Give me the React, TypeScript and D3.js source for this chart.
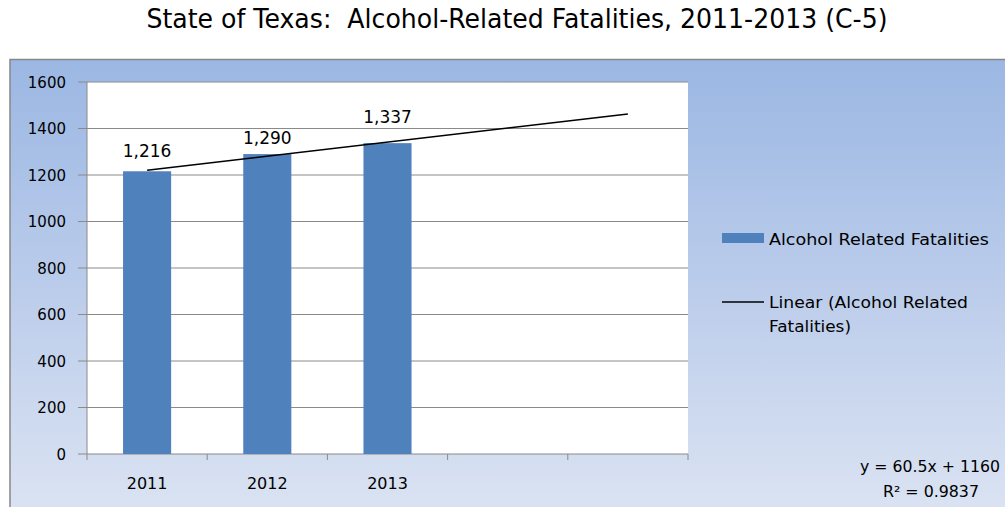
import React from "react";
import * as d3 from "d3";

const title = "State of Texas:  Alcohol-Related Fatalities, 2011-2013 (C-5)";
const categories = ["2011", "2012", "2013"];
const fatalities = [1216, 1290, 1337];
const forecastPeriods = 2;
const yTicks = [0, 200, 400, 600, 800, 1000, 1200, 1400, 1600];
const seriesName = "Alcohol Related Fatalities";
const trendNameLines = ["Linear (Alcohol Related", "Fatalities)"];
const labelNudges = [14, 10, 20];

const W = 1005;
const H = 507;
const plot = { left: 87, right: 688, top: 82, bottom: 454 };
const font = "'DejaVu Sans', Verdana, sans-serif";

export default function App() {
  const n = categories.length + forecastPeriods;
  const slots = d3.range(1, n + 1);
  const x = d3
    .scaleBand<number>()
    .domain(slots)
    .range([plot.left, plot.right])
    .paddingInner(0.6)
    .paddingOuter(0.3);
  const step = x.step();
  const y = d3.scaleLinear().domain([0, 1600]).range([plot.bottom, plot.top]);
  const cx = (i: number) => (x(i) as number) + x.bandwidth() / 2;

  // linear regression
  const xs = fatalities.map((_, i) => i + 1);
  const mx = d3.mean(xs) as number;
  const my = d3.mean(fatalities) as number;
  const sxy = d3.sum(xs.map((v, i) => (v - mx) * (fatalities[i] - my)));
  const sxx = d3.sum(xs.map((v) => (v - mx) ** 2));
  const slope = sxy / sxx;
  const intercept = my - slope * mx;
  const ssTot = d3.sum(fatalities.map((v) => (v - my) ** 2));
  const ssRes = d3.sum(fatalities.map((v, i) => (v - (intercept + slope * xs[i])) ** 2));
  const r2 = 1 - ssRes / ssTot;
  const trendPts: [number, number][] = [1, n].map((k) => [cx(k), y(intercept + slope * k)]);
  const line = d3.line();

  const boundaries = d3.range(0, n + 1).map((k) => plot.left + k * step);

  return (
    <svg
      width={W}
      height={H}
      style={{ position: "absolute", left: 0, top: 0, display: "block" }}
      fontFamily={font}
    >
      <defs>
        <linearGradient id="bg" x1="0" y1="0" x2="0" y2="1">
          <stop offset="0" stopColor="#9bb7e3" />
          <stop offset="0.5" stopColor="#bccdeb" />
          <stop offset="1" stopColor="#dde5f3" />
        </linearGradient>
      </defs>
      <rect x={0} y={0} width={W} height={H} fill="#ffffff" />
      <text
        x={517}
        y={28}
        textAnchor="middle"
        fontSize={26}
        fill="#000"
        textLength={741}
        lengthAdjust="spacingAndGlyphs"
        style={{ whiteSpace: "pre" }}
      >
        {title}
      </text>
      <rect x={10} y={59.5} width={1010} height={470} fill="url(#bg)" stroke="#878787" strokeWidth={1.5} />
      <rect x={plot.left} y={plot.top} width={plot.right - plot.left} height={plot.bottom - plot.top} fill="#ffffff" />
      {yTicks.map((t) => (
        <g key={t}>
          <line x1={plot.left - 9} x2={plot.right} y1={y(t)} y2={y(t)} stroke="#8a8a8a" strokeWidth={1} />
          <text x={66} y={y(t) + 5.5} textAnchor="end" fontSize={15} fill="#000">
            {t}
          </text>
        </g>
      ))}
      <line x1={plot.left} x2={plot.left} y1={plot.top} y2={plot.bottom} stroke="#8a8a8a" strokeWidth={1} />
      {boundaries.map((b, i) => (
        <line key={i} x1={b} x2={b} y1={plot.bottom} y2={plot.bottom + 6} stroke="#8a8a8a" strokeWidth={1} />
      ))}
      {fatalities.map((v, i) => (
        <rect
          key={i}
          x={x(i + 1) as number}
          y={y(v)}
          width={x.bandwidth()}
          height={y(0) - y(v)}
          fill="#4f81bd"
        />
      ))}
      <path d={line(trendPts) as string} stroke="#000" strokeWidth={1.4} fill="none" />
      {fatalities.map((v, i) => (
        <text key={i} x={cx(i + 1)} y={y(v) - labelNudges[i]} textAnchor="middle" fontSize={17} fill="#000">
          {d3.format(",")(v)}
        </text>
      ))}
      {categories.map((c, i) => (
        <text key={c} x={cx(i + 1)} y={489} textAnchor="middle" fontSize={16} fill="#000">
          {c}
        </text>
      ))}
      <rect x={722} y={233} width={42} height={10} fill="#4f81bd" />
      <text x={769} y={245} fontSize={15} fill="#000" textLength={220} lengthAdjust="spacingAndGlyphs">
        {seriesName}
      </text>
      <line x1={722} x2={764} y1={302} y2={302} stroke="#000" strokeWidth={1.4} />
      {trendNameLines.map((t, i) => (
        <text
          key={i}
          x={769}
          y={308 + i * 24}
          fontSize={15}
          fill="#000"
          textLength={i === 0 ? 199 : 82}
          lengthAdjust="spacingAndGlyphs"
        >
          {t}
        </text>
      ))}
      <text x={930} y={472} textAnchor="middle" fontSize={15} fill="#000" textLength={140} lengthAdjust="spacingAndGlyphs">
        {`y = ${d3.format(".1f")(slope)}x + ${d3.format("d")(intercept)}`}
      </text>
      <text x={931} y={497} textAnchor="middle" fontSize={15} fill="#000" textLength={96} lengthAdjust="spacingAndGlyphs">
        {`R² = ${d3.format(".4f")(r2)}`}
      </text>
    </svg>
  );
}
